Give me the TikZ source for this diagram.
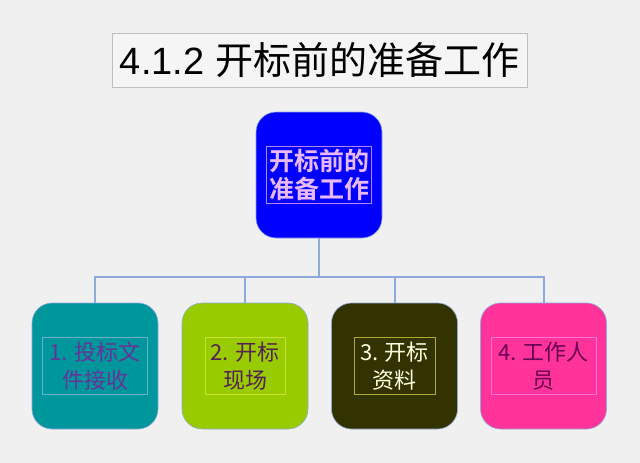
\documentclass[tikz,border=0pt]{standalone}
\usepackage{fontspec}
\setmainfont{Liberation Sans}
\newfontfamily\cjk{Noto Sans CJK SC}[BoldFont={Noto Sans CJK SC Bold}]
\newfontfamily\latn{Liberation Sans}
\definecolor{bg}{HTML}{F0F0F0}
\definecolor{conn}{HTML}{8EA9DB}
\definecolor{cblue}{HTML}{0000FF}
\definecolor{cteal}{HTML}{00979C}
\definecolor{cgreen}{HTML}{99CC00}
\definecolor{colive}{HTML}{333300}
\definecolor{cpink}{HTML}{FF3399}
\definecolor{roottext}{HTML}{E8B8F8}
\definecolor{rootframe}{HTML}{B088F0}
\definecolor{t1text}{HTML}{663399}
\definecolor{t2text}{HTML}{552255}
\definecolor{t3text}{HTML}{FFFFE0}
\definecolor{t4text}{HTML}{660055}
\begin{document}
\begin{tikzpicture}[x=1pt,y=-1pt,
  box/.style={rounded corners=20pt, minimum width=126pt, minimum height=126pt, inner sep=0pt, draw=conn, line width=0.6pt},
  tframe/.style={minimum height=57pt, inner sep=0pt, line width=0.5pt, align=center},
  bfont/.style={font=\cjk\fontsize{22}{28}\selectfont},
  link/.style={draw=conn, line width=2pt}]
\useasboundingbox (0,0) rectangle (640,463);
\fill[bg] (0,0) rectangle (640,463);
% title
\node[draw=black!25, fill=black!4, line width=0.8pt, minimum width=415pt, minimum height=54pt, inner sep=0pt] (title) at (319.5,60) {};
\node at (title.center) {\fontsize{38}{42}\selectfont\latn 4.1.2 \cjk 开标前的准备工作};
% central
\node[box, fill=cblue] (root) at (319,175) {};
\node[tframe, draw=rootframe, minimum width=105pt, font=\cjk\bfseries\fontsize{25}{28}\selectfont, text=roottext] at (root.center) {开标前的\\准备工作};
% children
\node[box, fill=cteal] (c1) at (95,366) {};
\node[box, fill=cgreen] (c2) at (245,366) {};
\node[box, fill=colive] (c3) at (394.5,366) {};
\node[box, fill=cpink] (c4) at (543.5,366) {};
\node[tframe, bfont, draw=cyan!40!teal!70, minimum width=105pt, text=t1text] (t1) at (c1.center) {1. 投标文\\件接收};
\node[tframe, bfont, draw=cgreen!70!yellow!80, minimum width=80pt, text=t2text] (t2) at (c2.center) {2. 开标\\现场};
\node[tframe, bfont, draw=olive!70!white, minimum width=81pt, text=t3text] (t3) at (c3.center) {3. 开标\\资料};
\node[tframe, bfont, draw=pink!60!magenta, minimum width=105pt, text=t4text] (t4) at (c4.center) {4. 工作人\\员};
% connectors
\coordinate (hub) at (319,277);
\draw[link] (root.south) -- (hub);
\draw[link] (c1.north) |- (hub);
\draw[link] (c4.north) |- (hub);
\draw[link] (c2.north) -- (c2.north |- hub);
\draw[link] (c3.north) -- (c3.north |- hub);
\end{tikzpicture}
\end{document}
